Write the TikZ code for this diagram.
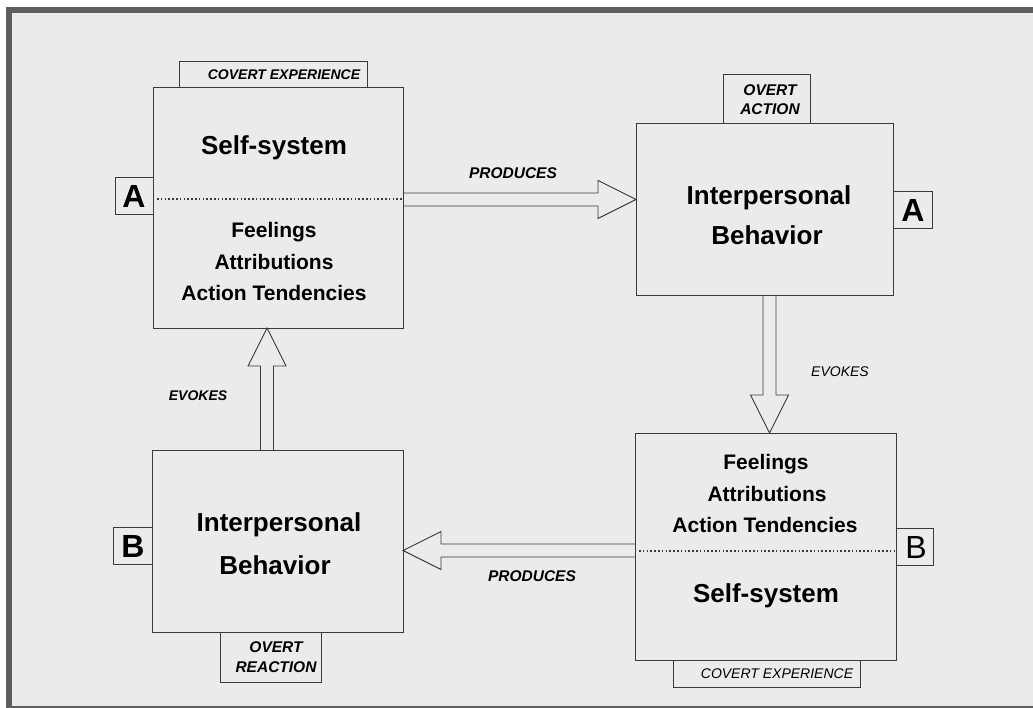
\documentclass[tikz,border=0pt]{standalone}
\usepackage{fontspec}
\setmainfont{Liberation Sans}
\usetikzlibrary{calc}
\definecolor{bgc}{HTML}{EBEBEB}
\definecolor{framec}{HTML}{5E5E5E}
\definecolor{linec}{HTML}{3A3A3A}
\newcommand\myblockarrow[2]{%
  \coordinate (ba-b) at ($(#2)!38pt!(#1)$);
  \draw[arrowline] ($(#1)!6.5pt!90:(#2)$) -- ($(ba-b)!6.5pt!90:(#2)$) -- ($(ba-b)!19pt!90:(#2)$) -- (#2)
     -- ($(ba-b)!19pt!-90:(#2)$) -- ($(ba-b)!6.5pt!-90:(#2)$) -- ($(#1)!6.5pt!-90:(#2)$);
}
\begin{document}
\begin{tikzpicture}[x=1pt,y=-1pt,
  box/.style={draw=linec, line width=0.9pt, fill=bgc, inner sep=0pt, outer sep=0pt, anchor=north west},
  arrowline/.style={draw=linec, line width=0.9pt, line join=miter},
  title/.style={font=\fontsize{26}{30}\selectfont\bfseries, inner sep=0pt, text height=18.6pt, text depth=0pt},
  item/.style={font=\fontsize{21}{25}\selectfont\bfseries, inner sep=0pt, text height=15pt, text depth=0pt},
  tag/.style={font=\fontsize{15.5}{20}\selectfont\bfseries\itshape, inner sep=0pt, text height=11.2pt, text depth=0pt},
  smalltag/.style={font=\fontsize{14}{18}\selectfont\bfseries\itshape, inner sep=0pt, text height=10pt, text depth=0pt},
  letter/.style={font=\fontsize{32}{36}\selectfont\bfseries, inner sep=0pt, text height=23pt, text depth=0pt},
  divider/.style={draw=linec, line width=1.2pt, dash pattern=on 1.6pt off 2.2pt}]
\useasboundingbox (0,0) rectangle (1033,708);
% frame
\fill[white] (0,0) rectangle (1033,708);
\fill[bgc] (12,13) rectangle (1033,706);
\fill[framec] (6,7) rectangle (1033,13);
\fill[framec] (6,7) rectangle (12,708);
\fill[framec] (6,706) rectangle (1033,708);

% tabs
\node[box, minimum width=188pt, minimum height=26pt] (cov1) at (179,61) {};
\node[box, minimum width=87pt, minimum height=49pt] (ovA) at (723,74) {};
\node[box, minimum width=38pt, minimum height=37pt] (tabA1) at (115,177) {};
\node[box, minimum width=39pt, minimum height=37pt] (tabA2) at (893,191) {};
\node[box, minimum width=187pt, minimum height=27pt] (cov2) at (673,660) {};
\node[box, minimum width=37pt, minimum height=37pt] (tabB2) at (896,528) {};
\node[box, minimum width=101pt, minimum height=50pt] (ovR) at (220,632) {};
\node[box, minimum width=39pt, minimum height=37pt] (tabB1) at (113,527) {};

% main boxes
\node[box, minimum width=250pt, minimum height=241pt] (ss1) at (153,87) {};
\node[box, minimum width=257pt, minimum height=172pt] (ib1) at (636,123) {};
\node[box, minimum width=261pt, minimum height=227pt] (ss2) at (635,433) {};
\node[box, minimum width=251pt, minimum height=182pt] (ib2) at (152,450) {};

% dividers
\draw[divider] ($(ss1.north west)+(4,112)$) coordinate (d1a) -- (d1a -| ss1.east);
\draw[divider] ($(ss2.north west)+(4,118)$) coordinate (d2a) -- (d2a -| ss2.east);

% tab texts
\node[smalltag] (tcov1) at (284,75) {COVERT EXPERIENCE};
\node[tag] (tov1) at (770,90) {OVERT};
\node[tag] (tov2) at (770,109) {ACTION};
\node[letter] (lA1) at (134,196) {A};
\node[letter] (lA2) at (913,210) {A};
\node[smalltag, font=\fontsize{14}{18}\selectfont\itshape] (tcov2) at (777,673) {COVERT EXPERIENCE};
\node[letter, font=\fontsize{32}{36}\selectfont] (lB2) at (916,547) {B};
\node[tag] (tor1) at (276,647) {OVERT};
\node[tag] (tor2) at (276,667) {REACTION};
\node[letter] (lB1) at (133,546) {B};

% box texts
\node[title] (s1t) at (274,145) {Self-system};
\node[item] (s1a) at (274,230) {Feelings};
\node[item] (s1b) at (274,262) {Attributions};
\node[item] (s1c) at (274,293) {Action Tendencies};

\node[title] (i1a) at (769,195) {Interpersonal};
\node[title] (i1b) at (767,235) {Behavior};

\node[item] (s2a) at (766,462) {Feelings};
\node[item] (s2b) at (767,494) {Attributions};
\node[item] (s2c) at (765,525) {Action Tendencies};
\node[title] (s2t) at (766,593) {Self-system};

\node[title] (i2a) at (279,522) {Interpersonal};
\node[title] (i2b) at (275,565) {Behavior};

% arrows
\path (ss1.north east) ++(0,112.5) coordinate (p1s);
\coordinate (p1e) at (ib1.west |- p1s);
\myblockarrow{p1s}{p1e}
\path (ib1.south) ++(5,0) coordinate (e1s);
\coordinate (e1e) at (e1s |- ss2.north);
\myblockarrow{e1s}{e1e}
\path (ss2.west) ++(0,4) coordinate (p2s);
\coordinate (p2e) at (ib2.east |- p2s);
\myblockarrow{p2s}{p2e}
\path (ib2.north) ++(-10.5,0) coordinate (e2s);
\coordinate (e2e) at (e2s |- ss1.south);
\myblockarrow{e2s}{e2e}

% arrow labels
\node[tag] (lp1) at (513,173) {PRODUCES};
\node[smalltag, font=\fontsize{14}{18}\selectfont\itshape] (le1) at (840,372) {EVOKES};
\node[smalltag] (le2) at (198,395) {EVOKES};
\node[tag] (lp2) at (532,576) {PRODUCES};
\end{tikzpicture}
\end{document}
